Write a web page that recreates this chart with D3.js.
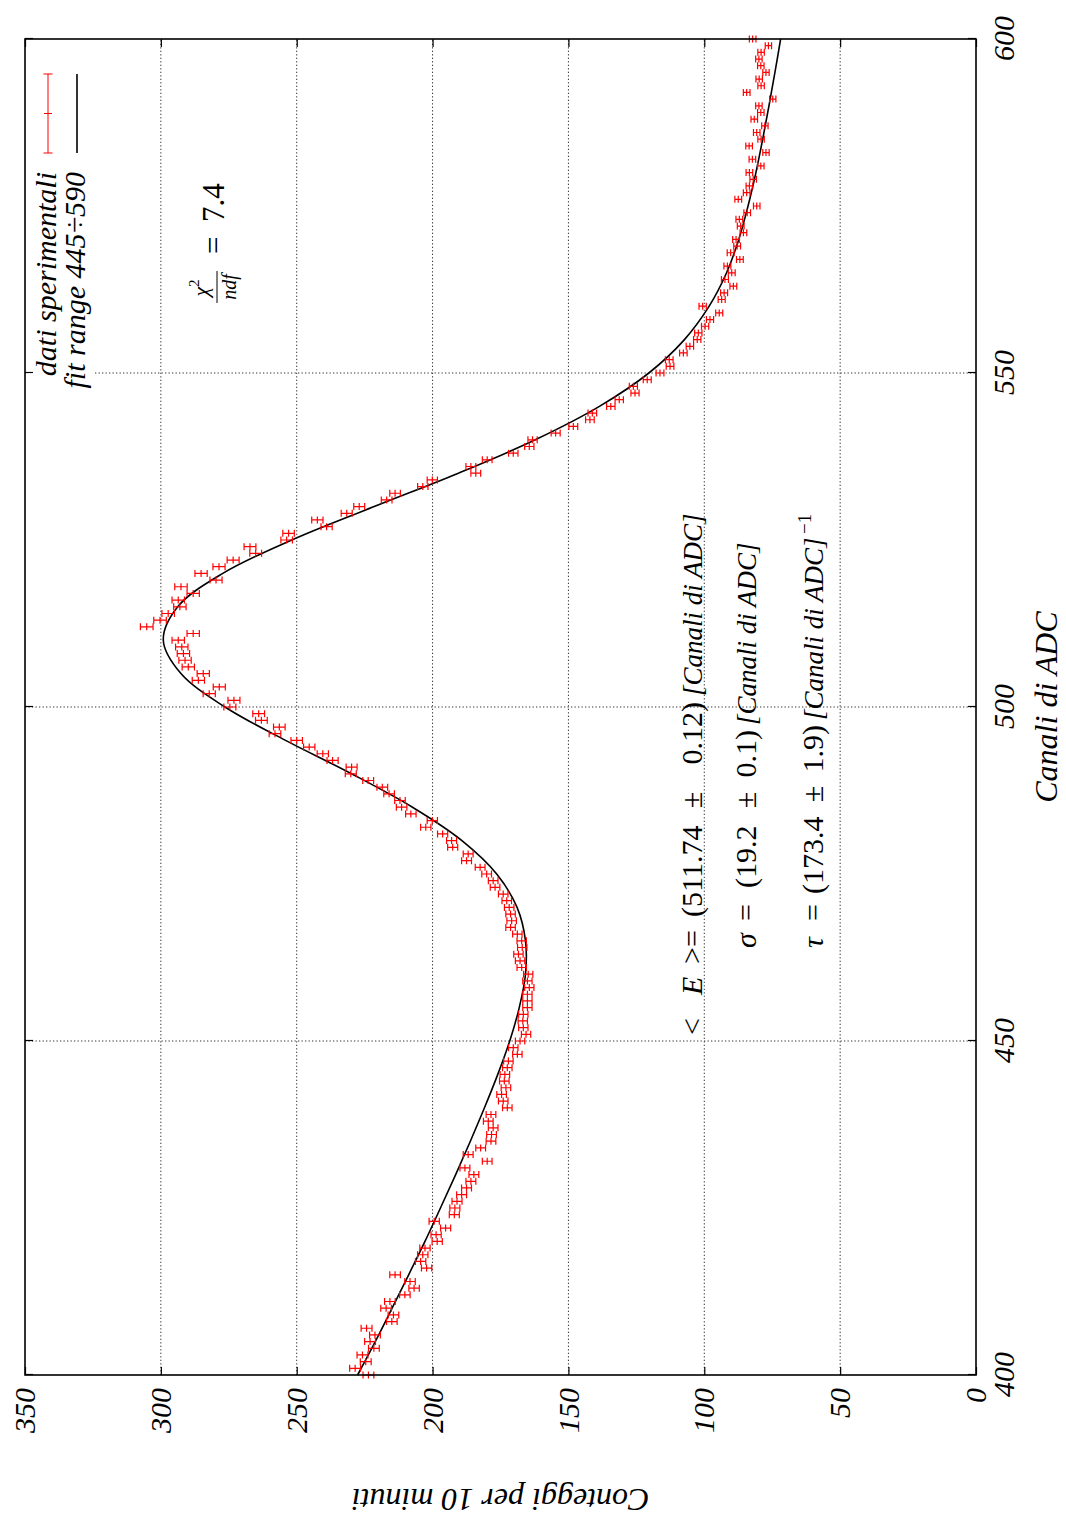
<!DOCTYPE html>
<html>
<head>
<meta charset="utf-8">
<script src="https://cdn.jsdelivr.net/npm/d3@7"></script>
<style>
  body { margin: 0; background: #fff; }
  text { font-family: "Liberation Serif", "Times New Roman", serif; }
</style>
</head>
<body>
<div id="chart"></div>
<script>
// data
// counts per ADC channel, first channel = 400
var firstChannel = 400;
var counts = [
  223.6, 228.5, 224.6, 225.8, 221.6, 223.0, 221.2, 224.3, 215.0, 214.4,
  217.1, 215.7, 210.2, 206.8, 208.3, 213.8, 202.2, 204.4, 203.6, 202.8,
  198.3, 198.7, 195.2, 199.4, 192.0, 191.8, 191.0, 189.3, 187.5, 185.9,
  184.8, 188.1, 179.9, 186.9, 182.3, 178.5, 178.3, 177.7, 179.5, 178.5,
  172.5, 174.0, 174.6, 173.0, 173.6, 173.4, 172.5, 172.1, 168.8, 170.3,
  167.8, 165.6, 166.6, 166.8, 166.6, 165.1, 165.1, 165.1, 164.4, 165.1,
  164.8, 167.2, 167.8, 168.4, 167.0, 167.2, 168.8, 171.3, 170.9, 171.3,
  171.8, 172.7, 174.0, 177.0, 177.7, 180.1, 182.5, 187.5, 186.9, 192.6,
  193.0, 196.3, 202.5, 200.1, 208.0, 211.4, 212.0, 216.0, 218.5, 223.7,
  230.1, 229.8, 236.8, 240.4, 245.4, 250.0, 258.0, 256.4, 263.0, 264.0,
  274.6, 273.1, 282.2, 278.5, 286.2, 284.4, 289.9, 291.1, 291.7, 292.3,
  293.6, 288.1, 305.2, 300.3, 297.3, 293.0, 293.6, 288.1, 292.6, 279.7,
  285.2, 278.6, 273.4, 265.1, 267.2, 253.7, 253.0, 239.0, 242.4, 231.6,
  227.0, 216.9, 213.8, 203.6, 200.1, 184.1, 185.9, 179.9, 170.3, 164.4,
  163.2, 154.7, 148.2, 142.1, 141.2, 134.4, 131.3, 125.5, 126.1, 121.0,
  116.3, 112.6, 112.9, 107.7, 105.3, 102.6, 102.2, 99.7, 97.9, 94.5,
  100.6, 93.6, 92.7, 89.3, 92.4, 89.9, 91.5, 86.9, 90.3, 87.9,
  88.3, 85.6, 86.6, 87.1, 84.2, 80.7, 87.5, 84.4, 83.4, 82.0,
  83.4, 79.2, 82.3, 77.3, 83.5, 79.1, 80.7, 77.7, 81.6, 79.2,
  79.9, 74.8, 84.4, 79.1, 79.8, 77.3, 79.2, 79.9, 79.1, 76.4,
  82.2
];

// fit curve
var fitChannels = [400, 405, 410, 415, 420, 425, 430, 435, 440, 445, 450, 455, 460, 465, 470,
  475, 480, 485, 490, 495, 500, 505, 510, 515, 520, 525, 530, 535, 540, 545,
  550, 555, 560, 565, 570, 575, 580, 585, 590, 595, 600];
var fitValues = [227.6, 221.1, 214.9, 208.8, 202.8, 197.1, 191.5, 186.1, 180.9, 176.0, 171.6, 168.1, 165.8, 165.8, 168.9,
  176.4, 189.2, 207.4, 229.8, 254.1, 276.4, 292.6, 299.1, 293.8, 277.2, 251.8, 221.5, 190.5, 162.2, 138.6,
  120.4, 107.3, 98.2, 91.8, 87.3, 83.9, 81.0, 78.5, 76.2, 74.0, 71.9];

var xTicks = [400, 450, 500, 550, 600];
var yTicks = [0, 50, 100, 150, 200, 250, 300, 350];
var legendLabels = ["dati sperimentali", "fit range 445\u00f7590"];

// Step 1: page set up. The plot is drawn landscape then turned -90 deg
var svgWidth = 1066;
var svgHeight = 1522;
var W = 1522; // landscape width

var plot = { left: 147, right: 1483, top: 25, bottom: 976 };
var serif = "'Liberation Serif', 'Times New Roman', serif";

var svg = d3.select("#chart")
  .append("svg")
  .attr("width", svgWidth)
  .attr("height", svgHeight);

svg.append("rect").attr("width", svgWidth).attr("height", svgHeight).attr("fill", "#fff");

var g = svg.append("g")
  .attr("transform", `translate(0, ${W}) rotate(-90)`);

// Step 2: scales
var xScale = d3.scaleLinear().domain([400, 600]).range([plot.left, plot.right]);
var yScale = d3.scaleLinear().domain([0, 350]).range([plot.bottom, plot.top]);

// grid
var gridStyle = function(sel) {
  sel.attr("stroke", "#333").attr("stroke-width", 1).attr("stroke-dasharray", "1.3,2.2");
};
g.selectAll(".xgrid")
  .data(xTicks.slice(1, -1))
  .enter().append("line")
  .attr("x1", d => xScale(d)).attr("x2", d => xScale(d))
  .attr("y1", plot.top).attr("y2", plot.bottom)
  .call(gridStyle);
g.selectAll(".ygrid")
  .data(yTicks.slice(1, -1))
  .enter().append("line")
  .attr("x1", plot.left).attr("x2", plot.right)
  .attr("y1", d => yScale(d)).attr("y2", d => yScale(d))
  .call(gridStyle);

// key area is opaque
g.append("rect")
  .attr("x", 1108).attr("y", plot.top + 1)
  .attr("width", plot.right - 1108 - 1).attr("height", 67)
  .attr("fill", "#fff");

// Step 3: axes (ticks inside, mirrored)
var fontTicks = function(sel) {
  sel.attr("font-family", null);
  sel.selectAll("text")
    .style("font-family", serif)
    .style("font-style", "italic")
    .style("font-size", "30px")
    .attr("fill", "#000");
  sel.selectAll("line").attr("stroke", "#000").attr("stroke-width", 1.2);
  sel.select(".domain").remove();
};

g.append("g")
  .attr("transform", `translate(0, ${plot.bottom})`)
  .call(d3.axisBottom(xScale).tickValues(xTicks).tickSizeInner(-8).tickSizeOuter(0).tickPadding(17))
  .call(fontTicks);
g.append("g")
  .attr("transform", `translate(0, ${plot.top})`)
  .call(d3.axisTop(xScale).tickValues(xTicks).tickSizeInner(-8).tickSizeOuter(0).tickFormat(""))
  .call(fontTicks);
g.append("g")
  .attr("transform", `translate(${plot.left}, 0)`)
  .call(d3.axisLeft(yScale).tickValues(yTicks).tickSizeInner(-8).tickSizeOuter(0).tickPadding(13))
  .call(fontTicks);
g.append("g")
  .attr("transform", `translate(${plot.right}, 0)`)
  .call(d3.axisRight(yScale).tickValues(yTicks).tickSizeInner(-8).tickSizeOuter(0).tickFormat(""))
  .call(fontTicks);

// axis titles
g.append("text")
  .attr("x", (plot.left + plot.right) / 2)
  .attr("y", 1057)
  .attr("text-anchor", "middle")
  .attr("font-style", "italic")
  .attr("font-size", 32)
  .text("Canali di ADC");

g.append("text")
  .attr("transform", `translate(33, ${(plot.top + plot.bottom) / 2}) rotate(-90)`)
  .attr("text-anchor", "middle")
  .attr("font-style", "italic")
  .attr("font-size", 32)
  .text("Conteggi per 10 minuti");

// Step 4: fit curve
var line = d3.line()
  .x(d => xScale(d[0]))
  .y(d => yScale(d[1]))
  .curve(d3.curveCatmullRom);

g.append("path")
  .attr("d", line(fitChannels.map((c, i) => [c, fitValues[i]])))
  .attr("fill", "none")
  .attr("stroke", "#000")
  .attr("stroke-width", 1.6);

// Step 5: data points with error bars (poisson-like)
var points = counts.map((v, i) => ({ c: firstChannel + i, v: v, e: Math.sqrt(v) / 7.5 }));
var cap = 3.5;

g.append("g").selectAll("path")
  .data(points)
  .enter().append("path")
  .attr("d", function(d) {
    var px = xScale(d.c), py = yScale(d.v);
    var lo = yScale(d.v - d.e), hi = yScale(d.v + d.e);
    return `M${px},${lo}V${hi}` +
      `M${px - cap},${lo}H${px + cap}` +
      `M${px - cap},${hi}H${px + cap}` +
      `M${px - cap},${py}H${px + cap}`;
  })
  .attr("fill", "none")
  .attr("stroke", "#ff0000")
  .attr("stroke-width", 1.2);

// border
g.append("rect")
  .attr("x", plot.left).attr("y", plot.top)
  .attr("width", plot.right - plot.left).attr("height", plot.bottom - plot.top)
  .attr("fill", "none")
  .attr("stroke", "#000")
  .attr("stroke-width", 1.6);

// Step 6: key
var keyX1 = 1369, keyX2 = 1448, keyTextX = 1350;
var keyRows = [48, 77];
g.append("path")
  .attr("d", `M${keyX1},${keyRows[0]}H${keyX2}M${keyX1},${keyRows[0] - 4.5}V${keyRows[0] + 4.5}` +
    `M${keyX2},${keyRows[0] - 4.5}V${keyRows[0] + 4.5}` +
    `M${(keyX1 + keyX2) / 2},${keyRows[0] - 4}V${keyRows[0] + 4}`)
  .attr("stroke", "#ff0000").attr("stroke-width", 1).attr("fill", "none");
g.append("line")
  .attr("x1", keyX1).attr("x2", keyX2)
  .attr("y1", keyRows[1]).attr("y2", keyRows[1])
  .attr("stroke", "#000").attr("stroke-width", 1.6);

g.selectAll(".keytext")
  .data(legendLabels)
  .enter().append("text")
  .attr("x", keyTextX)
  .attr("y", (d, i) => keyRows[i] + 8)
  .attr("text-anchor", "end")
  .attr("font-style", "italic")
  .attr("font-size", 30)
  .text(d => d);

// chi2 / ndf label
var chi = g.append("g");
chi.append("text")
  .attr("x", 1234).attr("y", 208)
  .attr("text-anchor", "middle")
  .attr("font-size", 22)
  .html('<tspan font-style="italic">\u03c7</tspan><tspan font-size="15" dy="-9">2</tspan>');
chi.append("line")
  .attr("x1", 1219).attr("x2", 1251)
  .attr("y1", 217).attr("y2", 217)
  .attr("stroke", "#000").attr("stroke-width", 1);
chi.append("text")
  .attr("x", 1235).attr("y", 236)
  .attr("text-anchor", "middle")
  .attr("font-style", "italic")
  .attr("font-size", 20)
  .text("ndf");
chi.append("text")
  .attr("x", 1268).attr("y", 224)
  .attr("font-size", 31)
  .html('=<tspan x="1300">7.4</tspan>');

// fit results: [text, x, italic, anchor]
var results = [
  { y: 702, parts: [["<", 487, 0, "start"], ["E", 527, 1, "start"], [">=", 558, 0, "start"], ["(511.74", 605, 0, "start"],
    ["\u00b1", 722, 0, "middle"], ["0.12)", 820, 0, "end"], ["[Canali di ADC]", 826, 1, "start"]] },
  { y: 756, parts: [["\u03c3", 574, 1, "start"], ["=", 601, 0, "start"], ["(19.2", 634, 0, "start"],
    ["\u00b1", 722, 0, "middle"], ["0.1)", 792, 0, "end"], ["[Canali di ADC]", 797, 1, "start"]] },
  { y: 823, parts: [["\u03c4", 574, 1, "start"], ["=", 601, 0, "start"], ["(173.4", 628, 0, "start"],
    ["\u00b1", 728, 0, "middle"], ["1.9)", 797, 0, "end"], ["[Canali di ADC]", 802, 1, "start"]] }
];
results.forEach(function(r) {
  r.parts.forEach(function(p) {
    g.append("text")
      .attr("x", p[1])
      .attr("y", r.y)
      .attr("text-anchor", p[3])
      .attr("font-size", p[2] && p[0].length > 2 ? 27 : 30)
      .attr("font-style", p[2] ? "italic" : "normal")
      .text(p[0]);
  });
});
g.append("text")
  .attr("x", 988).attr("y", 811)
  .attr("font-size", 19)
  .text("\u22121");
</script>
</body>
</html>
